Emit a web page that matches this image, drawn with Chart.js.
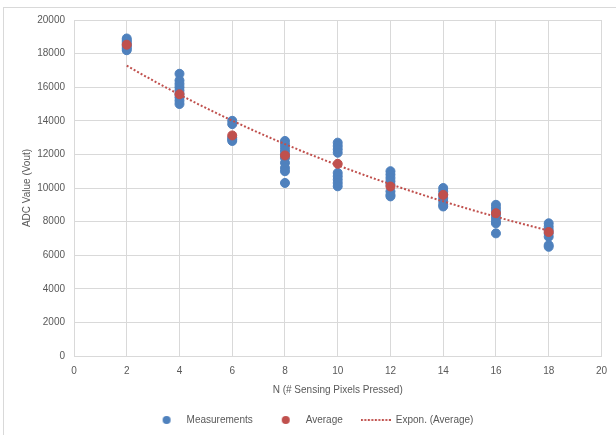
<!DOCTYPE html>
<html>
<head>
<meta charset="utf-8">
<script src="https://cdn.jsdelivr.net/npm/chart.js@4/dist/chart.umd.min.js"></script>
<style>
body{margin:0;background:#fff;}
#frame{position:absolute;left:3px;top:7px;width:640px;height:440px;border-left:1px solid #d9d9d9;border-top:1px solid #d9d9d9;}
#wrap{position:absolute;left:0;top:0;width:616px;height:435px;}
</style>
</head>
<body>
<div id="frame"></div>
<div id="wrap"><canvas id="myChart" width="616" height="435"></canvas></div>
<script>
// N values (x) and readings per N
const nValues = [2, 4, 6, 8, 10, 12, 14, 16, 18];
const measurements = [
    [18900, 18800, 18700, 18600, 18500, 18400, 18300, 18200],
    [16800, 16400, 16200, 16000, 15800, 15600, 15400, 15200, 15000],
    [14000, 13800, 13000, 12900, 12800],
    [12800, 12600, 12400, 12200, 12000, 11800, 11500, 11200, 11000, 10300],
    [12700, 12500, 12300, 12100, 10900, 10700, 10500, 10300, 10100],
    [11000, 10800, 10600, 10400, 10200, 9800, 9600, 9500],
    [10000, 9800, 9600, 9400, 9200, 9000, 8900],
    [9000, 8800, 8600, 8400, 8200, 8000, 7900, 7300],
    [7900, 7700, 7500, 7300, 7100, 6600, 6500]
];
const averages = [18530, 15580, 13130, 11940, 11440, 10090, 9590, 8500, 7380];
const xTicks = [0, 2, 4, 6, 8, 10, 12, 14, 16, 18, 20];
const yTicks = [0, 2000, 4000, 6000, 8000, 10000, 12000, 14000, 16000, 18000, 20000];

const BLUE = '#4F81BD';
const RED = '#C0504D';
const TEXT = '#595959';
const GRID = '#D9D9D9';

var measPoints = [];
for(var i = 0; i < nValues.length; i++){
    for(var j = 0; j < measurements[i].length; j++){
        measPoints.push({x: nValues[i], y: measurements[i][j]});
    }
}
var avgPoints = nValues.map(function(n, i){ return {x: n, y: averages[i]}; });

// exponential trendline fitted to the averages (like Excel does)
function expFit(xs, ys){
    var n = xs.length, sx = 0, sl = 0, sxx = 0, sxl = 0;
    for(var i = 0; i < n; i++){
        var l = Math.log(ys[i]);
        sx += xs[i]; sl += l; sxx += xs[i]*xs[i]; sxl += xs[i]*l;
    }
    var b = (n*sxl - sx*sl) / (n*sxx - sx*sx);
    var a = Math.exp((sl - b*sx) / n);
    return {a: a, b: b};
}
var fit = expFit(nValues, averages);
var trendPoints = [];
for(var t = nValues[0]; t <= nValues[nValues.length-1] + 0.001; t += 0.25){
    trendPoints.push({x: t, y: fit.a * Math.exp(fit.b * t)});
}

// legend marks as small canvases
function dotMark(color){
    var c = document.createElement('canvas');
    c.width = 10; c.height = 10;
    var g = c.getContext('2d');
    g.fillStyle = color;
    g.beginPath(); g.arc(5, 5, 4, 0, Math.PI*2); g.fill();
    return c;
}
function dashMark(color){
    var c = document.createElement('canvas');
    c.width = 30; c.height = 4;
    var g = c.getContext('2d');
    g.strokeStyle = color;
    g.lineWidth = 2;
    g.setLineDash([2, 1.5]);
    g.beginPath(); g.moveTo(0, 2); g.lineTo(30, 2); g.stroke();
    return c;
}
var legendMarks = [dotMark(BLUE), dotMark(RED), dashMark(RED)];

var myChart = new Chart(document.getElementById('myChart').getContext('2d'), {
    type: 'scatter',
    data: {
        datasets: [{
            label: 'Measurements',
            data: measPoints,
            backgroundColor: BLUE,
            borderColor: BLUE,
            pointRadius: 4.5,
            pointHoverRadius: 4.5,
            order: 3
        }, {
            label: 'Average',
            data: avgPoints,
            backgroundColor: RED,
            borderColor: RED,
            pointRadius: 4.5,
            pointHoverRadius: 4.5,
            order: 2
        }, {
            label: 'Expon. (Average)',
            data: trendPoints,
            showLine: true,
            borderColor: RED,
            borderWidth: 2,
            borderDash: [2, 2],
            pointRadius: 0,
            pointHoverRadius: 0,
            fill: false,
            order: 1
        }]
    },
    options: {
        responsive: false,
        animation: false,
        layout: {padding: {left: 21, top: 20, right: 12, bottom: 0}},
        scales: {
            x: {
                type: 'linear',
                min: 0,
                max: 20,
                afterBuildTicks: function(axis){ axis.ticks = xTicks.map(function(v){ return {value: v}; }); },
                afterFit: function(axis){ axis.height -= 2; },
                ticks: {color: TEXT, padding: 9, font: {size: 10}},
                grid: {color: GRID, drawTicks: false},
                border: {color: GRID},
                title: {display: true, text: 'N (# Sensing Pixels Pressed)', color: TEXT, font: {size: 10}, padding: {top: 0, bottom: 1}}
            },
            y: {
                min: 0,
                max: 20000,
                afterBuildTicks: function(axis){ axis.ticks = yTicks.map(function(v){ return {value: v}; }); },
                afterFit: function(axis){ axis.width = 53; },
                ticks: {color: TEXT, padding: 9, font: {size: 10}, callback: function(v){ return String(v); }},
                grid: {color: GRID, drawTicks: false},
                border: {display: false},
                title: {display: true, text: 'ADC Value (Vout)', color: TEXT, font: {size: 10}, padding: {top: 0, bottom: 2}}
            }
        },
        plugins: {
            tooltip: {enabled: false},
            legend: {
                position: 'bottom',
                labels: {
                    usePointStyle: true,
                    pointStyleWidth: 30,
                    boxHeight: 10,
                    padding: 18,
                    color: TEXT,
                    font: {size: 10},
                    generateLabels: function(chart){
                        return chart.data.datasets.map(function(ds, i){
                            return {
                                text: ds.label,
                                fillStyle: ds.borderColor,
                                strokeStyle: ds.borderColor,
                                lineWidth: 0,
                                pointStyle: legendMarks[i],
                                hidden: false,
                                datasetIndex: i,
                                fontColor: TEXT
                            };
                        });
                    }
                }
            }
        }
    }
});
</script>
</body>
</html>
